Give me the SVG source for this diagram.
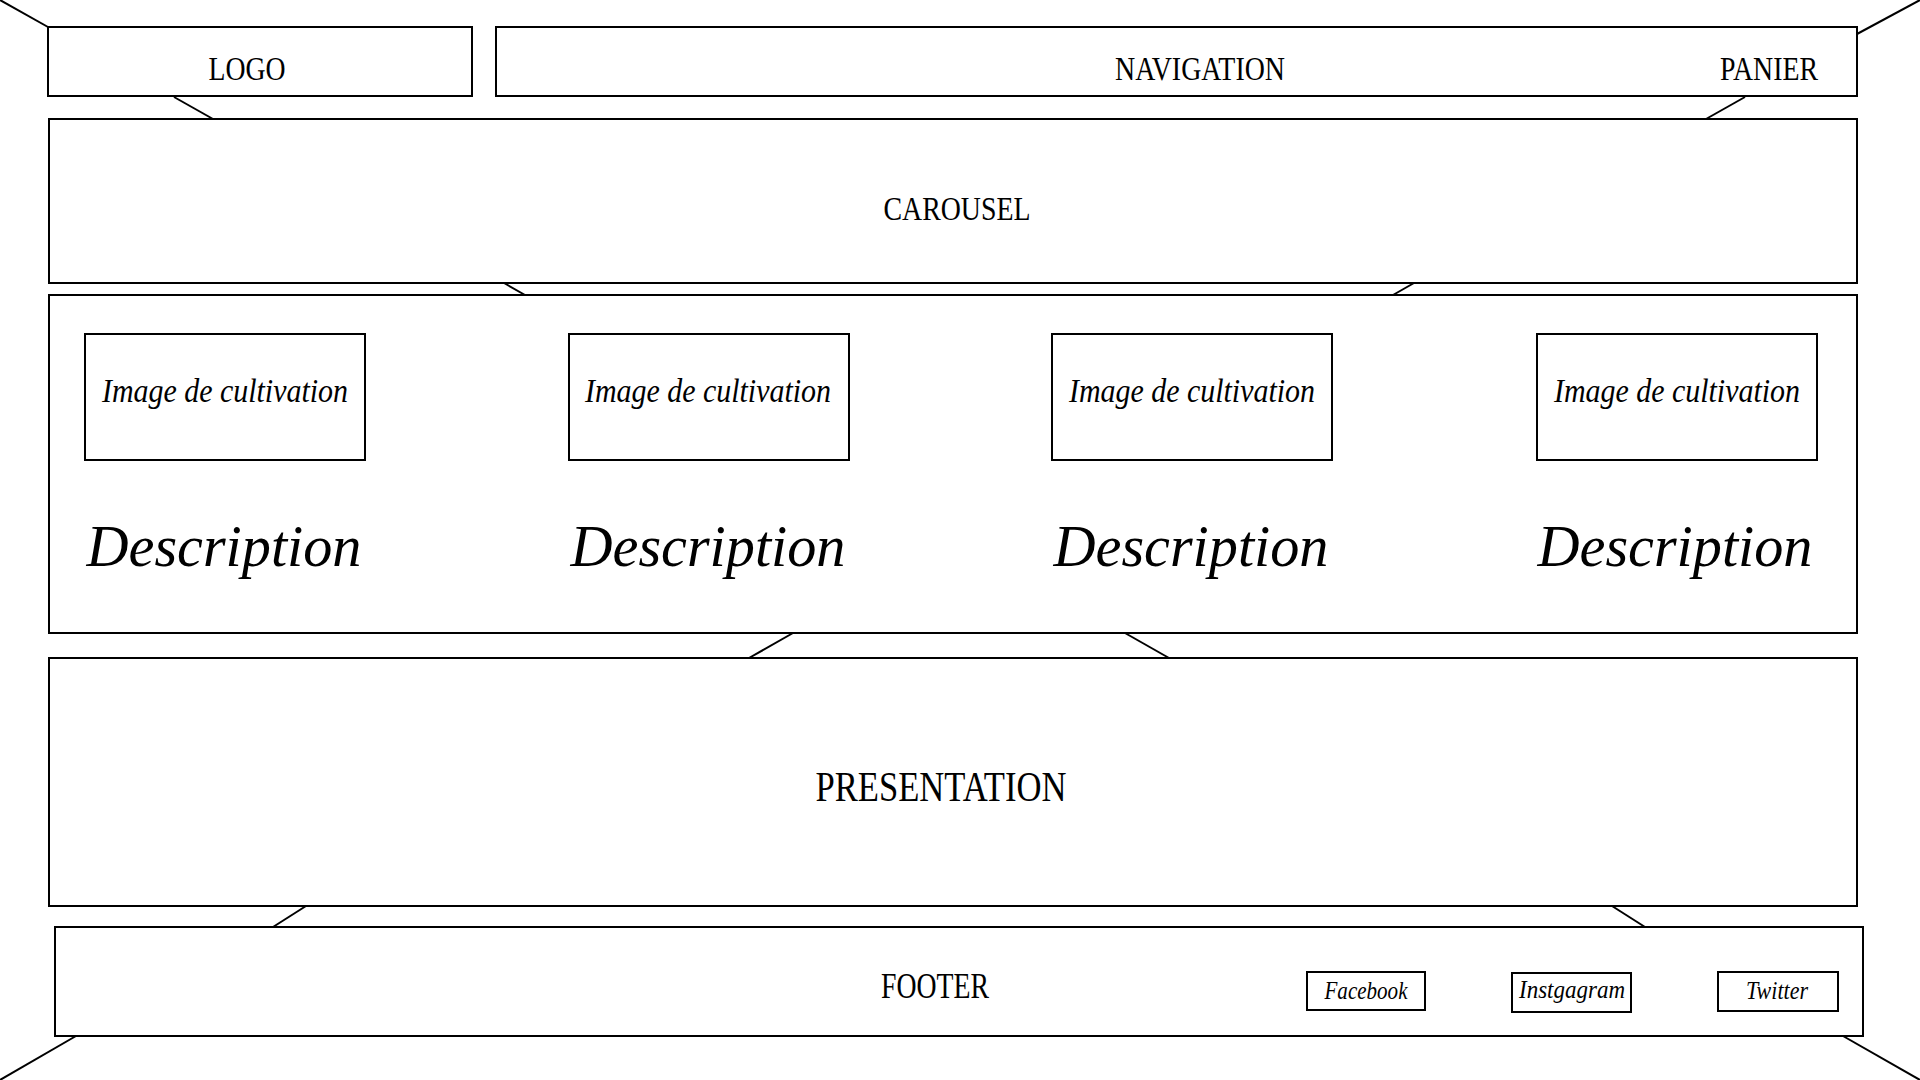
<svg xmlns="http://www.w3.org/2000/svg" width="1920" height="1080" viewBox="0 0 1920 1080">
<style>
.box{fill:#fff;stroke:#000;stroke-width:2}
.ln{stroke:#000;stroke-width:2;fill:none}
.t{font-family:"Liberation Serif","DejaVu Serif",serif;fill:#000;text-anchor:middle}
.c{font-style:italic}
</style>
<rect width="1920" height="1080" fill="#fff"/>
<g id="connectors">
<line class="ln" x1="0" y1="0" x2="48" y2="27"/>
<line class="ln" x1="1920" y1="0" x2="1857" y2="34"/>
<line class="ln" x1="174" y1="97" x2="213" y2="119"/>
<line class="ln" x1="1745" y1="97" x2="1706" y2="119"/>
<line class="ln" x1="504" y1="283" x2="525" y2="295"/>
<line class="ln" x1="1414" y1="283" x2="1393" y2="295"/>
<line class="ln" x1="793" y1="633" x2="749" y2="658"/>
<line class="ln" x1="1125" y1="633" x2="1169" y2="658"/>
<line class="ln" x1="306" y1="906" x2="273" y2="927"/>
<line class="ln" x1="1612" y1="906" x2="1645" y2="927"/>
<line class="ln" x1="76" y1="1036" x2="0" y2="1080"/>
<line class="ln" x1="1843" y1="1036" x2="1920" y2="1080"/>
</g>
<g id="logo">
<rect class="box" x="48" y="27" width="424" height="69"/>
<text class="t" x="247" y="80" font-size="34" textLength="77" lengthAdjust="spacingAndGlyphs">LOGO</text>
</g>
<g id="navigation">
<rect class="box" x="496" y="27" width="1361" height="69"/>
<text class="t" x="1200" y="80" font-size="34" textLength="170" lengthAdjust="spacingAndGlyphs">NAVIGATION</text>
<text class="t" x="1769" y="80" font-size="34" textLength="98" lengthAdjust="spacingAndGlyphs">PANIER</text>
</g>
<g id="carousel">
<rect class="box" x="49" y="119" width="1808" height="164"/>
<text class="t" x="957" y="220" font-size="34" textLength="147" lengthAdjust="spacingAndGlyphs">CAROUSEL</text>
</g>
<g id="products">
<rect class="box" x="49" y="295" width="1808" height="338"/>
<g id="product1">
<rect class="box" x="85" y="334" width="280" height="126"/>
<text class="t c" x="225" y="402" font-size="33" textLength="246" lengthAdjust="spacingAndGlyphs">Image de cultivation</text>
<text class="t c" x="224" y="566" font-size="59" textLength="275" lengthAdjust="spacingAndGlyphs">Description</text>
</g>
<g id="product2">
<rect class="box" x="569" y="334" width="280" height="126"/>
<text class="t c" x="708" y="402" font-size="33" textLength="246" lengthAdjust="spacingAndGlyphs">Image de cultivation</text>
<text class="t c" x="708" y="566" font-size="59" textLength="275" lengthAdjust="spacingAndGlyphs">Description</text>
</g>
<g id="product3">
<rect class="box" x="1052" y="334" width="280" height="126"/>
<text class="t c" x="1192" y="402" font-size="33" textLength="246" lengthAdjust="spacingAndGlyphs">Image de cultivation</text>
<text class="t c" x="1191" y="566" font-size="59" textLength="275" lengthAdjust="spacingAndGlyphs">Description</text>
</g>
<g id="product4">
<rect class="box" x="1537" y="334" width="280" height="126"/>
<text class="t c" x="1677" y="402" font-size="33" textLength="246" lengthAdjust="spacingAndGlyphs">Image de cultivation</text>
<text class="t c" x="1675" y="566" font-size="59" textLength="275" lengthAdjust="spacingAndGlyphs">Description</text>
</g>
</g>
<g id="presentation">
<rect class="box" x="49" y="658" width="1808" height="248"/>
<text class="t" x="941" y="801" font-size="42" textLength="251" lengthAdjust="spacingAndGlyphs">PRESENTATION</text>
</g>
<g id="footer">
<rect class="box" x="55" y="927" width="1808" height="109"/>
<text class="t" x="935" y="998" font-size="35" textLength="108" lengthAdjust="spacingAndGlyphs">FOOTER</text>
<g id="facebook">
<rect class="box" x="1307" y="972" width="118" height="38"/>
<text class="t c" x="1366" y="999" font-size="26" textLength="83" lengthAdjust="spacingAndGlyphs">Facebook</text>
</g>
<g id="instagram">
<rect class="box" x="1512" y="973" width="119" height="39"/>
<text class="t c" x="1572" y="998" font-size="26" textLength="106" lengthAdjust="spacingAndGlyphs">Instgagram</text>
</g>
<g id="twitter">
<rect class="box" x="1718" y="972" width="120" height="39"/>
<text class="t c" x="1777" y="999" font-size="26" textLength="62" lengthAdjust="spacingAndGlyphs">Twitter</text>
</g>
</g>
</svg>
